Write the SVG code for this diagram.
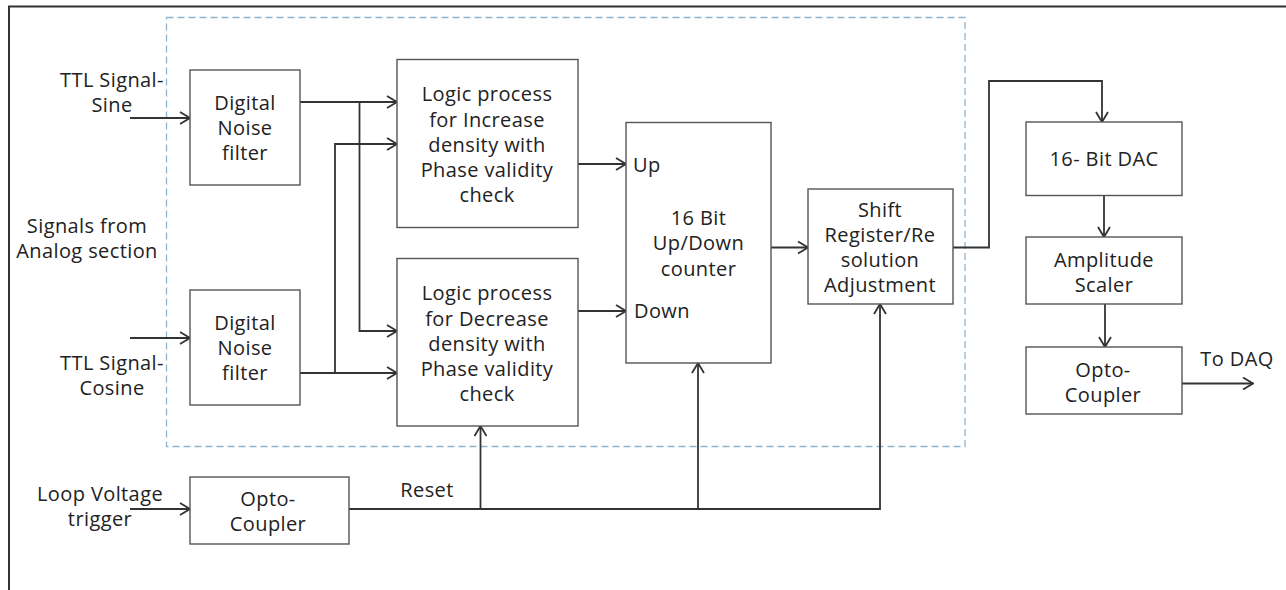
<svg xmlns="http://www.w3.org/2000/svg" width="1286" height="590" viewBox="0 0 1286 590">
<defs>
<marker id="arr" markerWidth="12" markerHeight="14" refX="11" refY="7" orient="auto" markerUnits="userSpaceOnUse">
<path d="M1,1 L11,7 L1,13" fill="none" stroke="#333" stroke-width="1.8"/>
</marker>
<style>
.box{fill:#fff;stroke:#555;stroke-width:1.4}
.ln{fill:none;stroke:#333;stroke-width:1.8}
.t{font-family:"Open Sans","DejaVu Sans",sans-serif;font-size:20px;letter-spacing:0.4px;fill:#222;text-anchor:middle;dominant-baseline:central}
.tl{text-anchor:start}
</style>
</defs>
<rect width="1286" height="590" fill="#fff"/>
<path d="M9,590 V6.5 H1286" fill="none" stroke="#333" stroke-width="2"/>
<rect x="166.5" y="17.5" width="798.5" height="429" fill="none" stroke="#8fb4d0" stroke-width="1.3" stroke-dasharray="7,4"/>

<g id="labels">
<text class="t"><tspan x="112" y="78.5">TTL Signal-</tspan><tspan x="112" y="103.5">Sine</tspan></text>
<text class="t"><tspan x="87" y="224.5">Signals from</tspan><tspan x="87" y="249.5">Analog section</tspan></text>
<text class="t"><tspan x="112" y="362">TTL Signal-</tspan><tspan x="112" y="387">Cosine</tspan></text>
<text class="t"><tspan x="100" y="493">Loop Voltage</tspan><tspan x="100" y="518">trigger</tspan></text>
<text class="t" x="427" y="489">Reset</text>
<text class="t" x="1237" y="358">To DAQ</text>
</g>

<g id="connectors">
<line class="ln" x1="130" y1="118" x2="190" y2="118" marker-end="url(#arr)"/>
<line class="ln" x1="130" y1="338" x2="190" y2="338" marker-end="url(#arr)"/>
<line class="ln" x1="130" y1="509" x2="190" y2="509" marker-end="url(#arr)"/>
<line class="ln" x1="300" y1="102" x2="397" y2="102" marker-end="url(#arr)"/>
<polyline class="ln" points="359.5,102 359.5,331 397,331" marker-end="url(#arr)"/>
<polyline class="ln" points="335,373 335,144 397,144" marker-end="url(#arr)"/>
<line class="ln" x1="300" y1="373" x2="397" y2="373" marker-end="url(#arr)"/>
<line class="ln" x1="578" y1="164" x2="626" y2="164" marker-end="url(#arr)"/>
<line class="ln" x1="578" y1="311" x2="626" y2="311" marker-end="url(#arr)"/>
<line class="ln" x1="771" y1="247.5" x2="808" y2="247.5" marker-end="url(#arr)"/>
<polyline class="ln" points="349,509 880,509 880,304" marker-end="url(#arr)"/>
<line class="ln" x1="480.5" y1="509" x2="480.5" y2="426" marker-end="url(#arr)"/>
<line class="ln" x1="698" y1="509" x2="698" y2="363" marker-end="url(#arr)"/>
<polyline class="ln" points="953,247.5 989,247.5 989,81 1102,81 1102,122" marker-end="url(#arr)"/>
<line class="ln" x1="1104" y1="195.5" x2="1104" y2="237" marker-end="url(#arr)"/>
<line class="ln" x1="1105" y1="304" x2="1105" y2="347" marker-end="url(#arr)"/>
<line class="ln" x1="1182" y1="383.5" x2="1253" y2="383.5" marker-end="url(#arr)"/>
</g>

<g id="filter1">
<rect class="box" x="190" y="70" width="110" height="115"/>
<text class="t"><tspan x="245" y="102">Digital</tspan><tspan x="245" y="127">Noise</tspan><tspan x="245" y="152">filter</tspan></text>
</g>
<g id="filter2">
<rect class="box" x="190" y="290" width="110" height="115"/>
<text class="t"><tspan x="245" y="322">Digital</tspan><tspan x="245" y="347">Noise</tspan><tspan x="245" y="372">filter</tspan></text>
</g>
<g id="opto1">
<rect class="box" x="190" y="477" width="159" height="67"/>
<text class="t"><tspan x="268" y="498">Opto-</tspan><tspan x="268" y="523">Coupler</tspan></text>
</g>
<g id="increase">
<rect class="box" x="397" y="59.5" width="181" height="168"/>
<text class="t"><tspan x="487" y="93">Logic process</tspan><tspan x="487" y="118.5">for Increase</tspan><tspan x="487" y="143.5">density with</tspan><tspan x="487" y="168.5">Phase validity</tspan><tspan x="487" y="193.5">check</tspan></text>
</g>
<g id="decrease">
<rect class="box" x="397" y="258.5" width="181" height="167.5"/>
<text class="t"><tspan x="487" y="292">Logic process</tspan><tspan x="487" y="317.5">for Decrease</tspan><tspan x="487" y="342.5">density with</tspan><tspan x="487" y="367.5">Phase validity</tspan><tspan x="487" y="392.5">check</tspan></text>
</g>
<g id="counter">
<rect class="box" x="626" y="122.5" width="145" height="240.5"/>
<text class="t tl" x="633" y="164">Up</text>
<text class="t"><tspan x="698.5" y="217">16 Bit</tspan><tspan x="698.5" y="242">Up/Down</tspan><tspan x="698.5" y="267.5">counter</tspan></text>
<text class="t tl" x="634" y="310">Down</text>
</g>
<g id="shift">
<rect class="box" x="808" y="189" width="145" height="115"/>
<text class="t"><tspan x="880" y="209">Shift</tspan><tspan x="880" y="234">Register/Re</tspan><tspan x="880" y="259">solution</tspan><tspan x="880" y="284">Adjustment</tspan></text>
</g>
<g id="dac">
<rect class="box" x="1026" y="122" width="156" height="73.5"/>
<text class="t" x="1104" y="158.5">16- Bit DAC</text>
</g>
<g id="amplitude">
<rect class="box" x="1026" y="237" width="156" height="67"/>
<text class="t"><tspan x="1104" y="259">Amplitude</tspan><tspan x="1104" y="284">Scaler</tspan></text>
</g>
<g id="opto2">
<rect class="box" x="1026" y="347" width="156" height="67"/>
<text class="t"><tspan x="1103" y="368.5">Opto-</tspan><tspan x="1103" y="393.5">Coupler</tspan></text>
</g>
</svg>
